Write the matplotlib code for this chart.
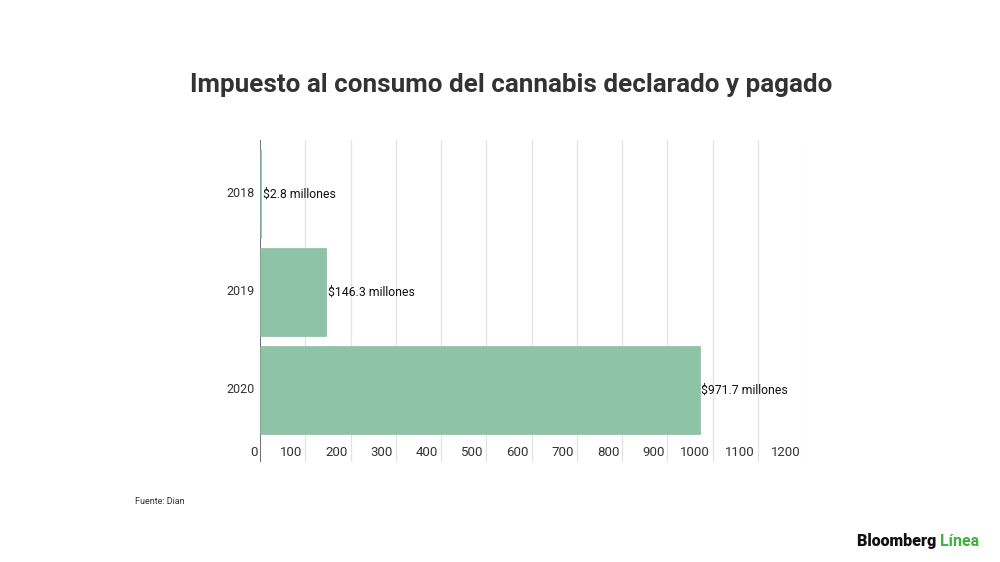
import matplotlib.pyplot as plt

years = ["2018", "2019", "2020"]
values = [2.8, 146.3, 971.7]
value_labels = ["$2.8 millones", "$146.3 millones", "$971.7 millones"]
x_ticks = [0, 100, 200, 300, 400, 500, 600, 700, 800, 900, 1000, 1100, 1200]

plt.rcParams["font.family"] = ["Roboto", "DejaVu Sans"]

W, H = 1000, 562
fig = plt.figure(figsize=(W / 100, H / 100), dpi=100)
# plot area in pixels: x 260..803, y 140..462
ax = fig.add_axes([260 / W, 1 - 462 / H, (803 - 260) / W, (462 - 140) / H])

pos = list(range(len(years)))
ax.set_ylim(2.735, -0.551)
ax.set_xlim(0, 1200)

for x in x_ticks[1:]:
    ax.axvline(x, color="#e3e3e3", linewidth=0.9, zorder=1)
ax.axvline(0, color="#555555", linewidth=1.2, zorder=2)
ax.barh(pos, values, height=0.9, color="#8fc3a7", edgecolor="#7fb396",
        linewidth=0.4, zorder=3)

for p, v, lab in zip(pos, values, value_labels):
    ax.text(v + 3, p, lab, va="center", ha="left", fontsize=8.8, color="#111111", zorder=4)

for p, y in zip(pos, years):
    ax.text(-12, p, y, va="center", ha="right", fontsize=9, color="#333333")

for x in x_ticks:
    ax.text(x - 6, 2.64, str(x), va="center", ha="right", fontsize=9.5, color="#333333")

ax.set_xticks([])
ax.set_yticks([])
for s in ax.spines.values():
    s.set_visible(False)

fig.text(511 / W, 1 - 85 / H, "Impuesto al consumo del cannabis declarado y pagado",
         ha="center", va="center", fontsize=18.7, fontweight="bold", color="#333333")
fig.text(135 / W, 1 - 502 / H, "Fuente: Dian", ha="left", va="center", fontsize=6.5, color="#333333")

t = fig.text(857 / W, 1 - 541 / H, "Bloomberg ", ha="left", va="center",
             fontsize=11.5, fontweight="black", color="#111111")
fig.canvas.draw()
bb = t.get_window_extent()
fig.text(bb.x1 / W, 1 - 541 / H, "Línea", ha="left", va="center",
         fontsize=11.5, fontweight="bold", color="#3cb43c")

fig.savefig("out.png", dpi=100)
